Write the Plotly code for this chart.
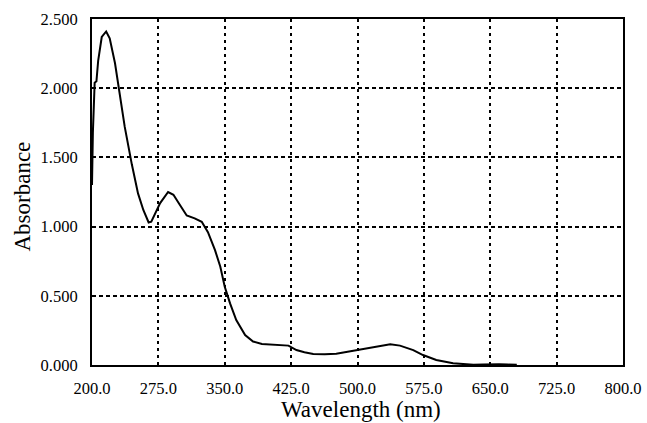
import plotly.graph_objects as go

wavelength = [200, 201, 203, 205, 207, 211, 216, 220, 226, 230, 237, 245, 252, 258, 264, 267,
              272, 277, 286, 292, 299, 307, 316, 324, 331, 339, 345, 350, 356, 363, 373, 382,
              392, 402, 412, 422, 431, 440, 450, 463, 476, 488, 499, 510, 518, 528, 537, 548,
              563, 574, 589, 608, 620, 631, 642, 650, 660, 670, 680]
absorbance = [1.30, 1.68, 2.04, 2.05, 2.20, 2.37, 2.41, 2.36, 2.18, 2.00, 1.72, 1.45, 1.24, 1.12, 1.03, 1.035,
              1.10, 1.17, 1.25, 1.23, 1.16, 1.08, 1.06, 1.035, 0.96, 0.83, 0.71, 0.565, 0.445, 0.325, 0.217, 0.17,
              0.152, 0.148, 0.145, 0.14, 0.108, 0.092, 0.08, 0.078, 0.082, 0.096, 0.108, 0.12, 0.132, 0.143, 0.149, 0.14,
              0.108, 0.072, 0.036, 0.012, 0.006, 0.002, 0.004, 0.007, 0.006, 0.003, 0.001]

x_ticks = [200, 275, 350, 425, 500, 575, 650, 725, 800]
x_tick_labels = ["200.0", "275.0", "350.0", "425.0", "500.0", "575.0", "650.0", "725.0", "800.0"]
y_ticks = [0, 0.5, 1.0, 1.5, 2.0, 2.5]
y_tick_labels = ["0.000", "0.500", "1.000", "1.500", "2.000", "2.500"]
x_title = "Wavelength (nm)"
y_title = "Absorbance"

fig = go.Figure()
fig.add_trace(go.Scatter(x=wavelength, y=absorbance, mode="lines",
                         line=dict(color="black", width=2), showlegend=False))

serif = "Liberation Serif"
tick_font = dict(family=serif, size=16.5, color="black")

fig.update_layout(
    width=647, height=423,
    margin=dict(l=92, r=24, t=19, b=58, autoexpand=False),
    paper_bgcolor="white", plot_bgcolor="white",
    font=dict(family=serif, color="black", size=16.5),
    xaxis=dict(range=[200, 800], tickmode="array", tickvals=x_ticks, ticktext=x_tick_labels,
               tickfont=tick_font,
               showgrid=True, gridcolor="black", gridwidth=1.5, griddash="3px,4px",
               showline=True, linecolor="black", linewidth=2, mirror=True,
               ticks="outside", ticklen=7, tickcolor="rgba(0,0,0,0)",
               zeroline=False, automargin=False),
    yaxis=dict(range=[0, 2.5], tickmode="array", tickvals=y_ticks, ticktext=y_tick_labels,
               tickfont=tick_font,
               showgrid=True, gridcolor="black", gridwidth=1.5, griddash="4px,3px",
               showline=True, linecolor="black", linewidth=2, mirror=True,
               ticks="outside", ticklen=9, tickcolor="rgba(0,0,0,0)",
               zeroline=False, automargin=False),
    annotations=[
        dict(text=x_title, xref="paper", yref="paper", x=0.5066, y=-0.128,
             xanchor="center", yanchor="middle", showarrow=False,
             font=dict(family=serif, size=23, color="black")),
        dict(text=y_title, xref="paper", yref="paper", x=-0.1318, y=0.487,
             xanchor="center", yanchor="middle", showarrow=False, textangle=-90,
             font=dict(family=serif, size=23, color="black")),
    ],
)

# remove the default page margin so the figure sits at the window's top-left corner
fig.write_html("out.html",
               config={"displayModeBar": False},
               post_script="document.body.style.margin='0';document.body.style.overflow='hidden';")
